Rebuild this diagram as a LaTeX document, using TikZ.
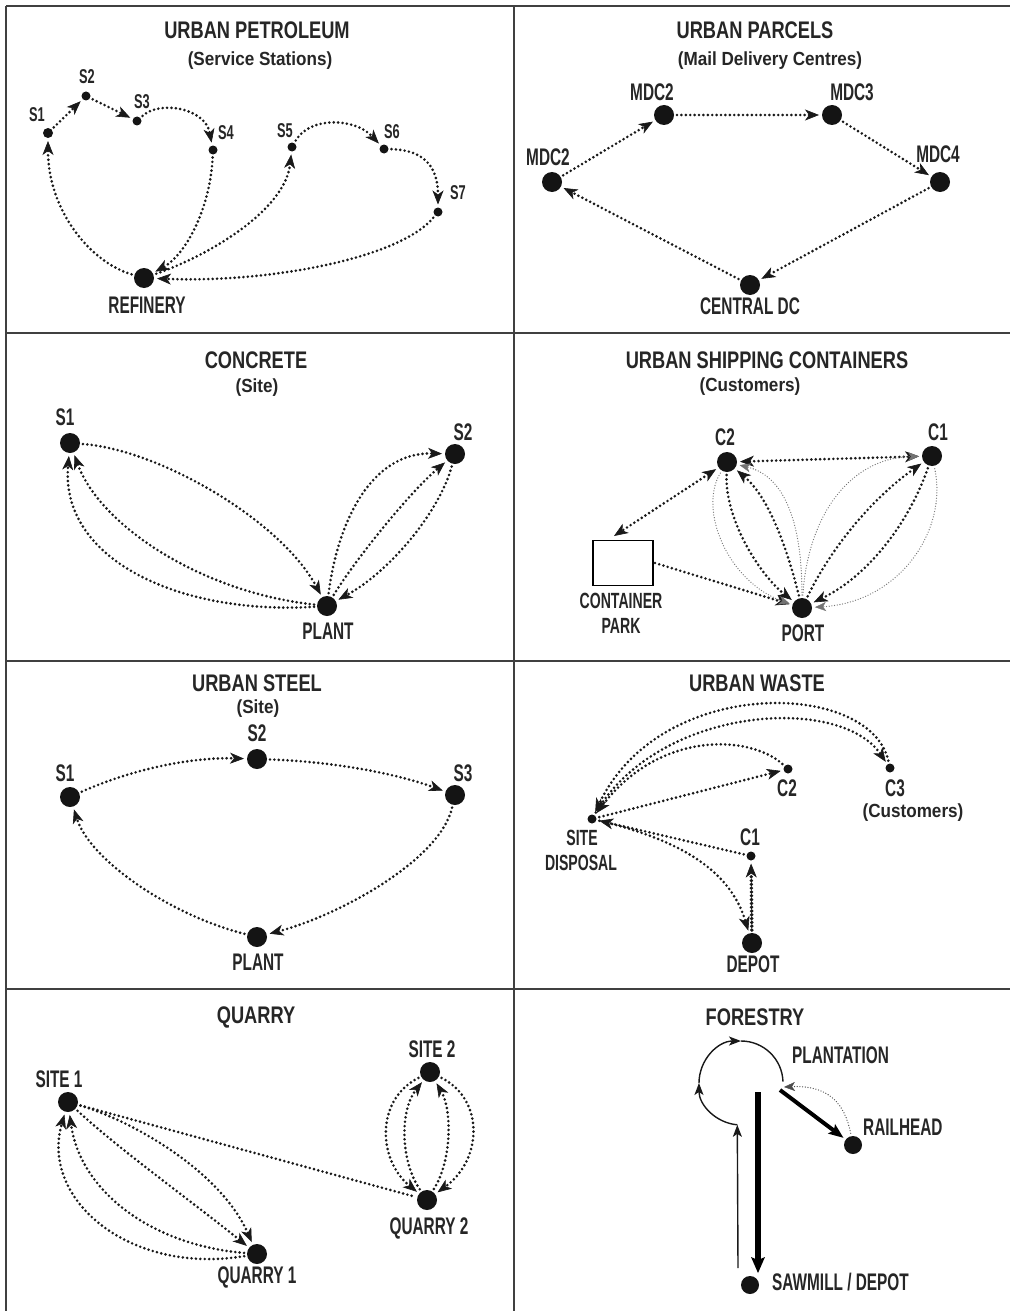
\documentclass[tikz,border=0pt]{standalone}
\usepackage{fontspec}
\newfontfamily\ttlfont{Liberation Sans}[FakeStretch=0.76]
\newfontfamily\labfont{Liberation Sans}[FakeStretch=0.64]
\newfontfamily\subfont{Liberation Sans}[FakeStretch=0.9]
\usetikzlibrary{arrows.meta}
\begin{document}
\begin{tikzpicture}[x=1pt,y=-1pt,
 frame/.style={line width=2.2pt, black!75},
 ttl/.style={font=\ttlfont\bfseries\fontsize{24}{28}\selectfont, text=black!85, inner sep=0pt},
 sub/.style={font=\subfont\bfseries\fontsize{19}{23}\selectfont, text=black!85, inner sep=0pt},
 lab/.style={font=\labfont\bfseries\fontsize{24}{26}\selectfont, text=black!85, inner sep=0pt},
 mlab/.style={font=\labfont\bfseries\fontsize{22}{24}\selectfont, text=black!85, inner sep=0pt},
 slab/.style={font=\labfont\bfseries\fontsize{20}{22}\selectfont, text=black!85, inner sep=0pt},
 bdot/.style={circle, fill=black!92, inner sep=0pt, minimum size=20pt, outer sep=3pt},
 sdot/.style={circle, fill=black!92, inner sep=0pt, minimum size=10pt, outer sep=3pt},
 dl/.style={line width=2.9pt, dash pattern=on 0pt off 4.4pt, line cap=round, black!90},
 tdl/.style={line width=3.8pt, dash pattern=on 0pt off 3.8pt, line cap=round, black!90},
 tl/.style={line width=1.3pt, dash pattern=on 0pt off 2.7pt, line cap=round, black!55},
 hd/.style={-{Stealth[length=14pt,width=11pt,inset=4pt,line width=0.6pt]}},
 hdb/.style={{Stealth[length=14pt,width=11pt,inset=4pt,line width=0.6pt]}-{Stealth[length=14pt,width=11pt,inset=4pt,line width=0.6pt]}},
 thd/.style={-{Stealth[length=11pt,width=9pt,inset=3pt,line width=0.4pt]}},
 solidthin/.style={line width=1.4pt, black!90},
]
\useasboundingbox (0,0) rectangle (1010,1311);
\fill[white] (0,0) rectangle (1010,1311);
% frame
\draw[frame] (6,6) -- (1010,6);
\draw[frame] (6,6) -- (6,1311);
\draw[frame] (514,6) -- (514,1311);
\draw[frame] (6,333) -- (1010,333);
\draw[frame] (6,661) -- (1010,661);
\draw[frame] (6,989) -- (1010,989);

% ===== Panel 1: Urban Petroleum
\node[ttl] (t1) at (257,30) {URBAN PETROLEUM};
\node[sub] (st1) at (260,61) {(Service Stations)};
\node[sdot] (p1) at (48,133) {};
\node[sdot,minimum size=9pt] (p2) at (86,96) {};
\node[sdot,minimum size=9pt] (p3) at (137,121) {};
\node[sdot,minimum size=9pt] (p4) at (213,150) {};
\node[sdot,minimum size=9pt] (p5) at (292,147) {};
\node[sdot,minimum size=9pt] (p6) at (384,149) {};
\node[sdot,minimum size=9pt] (p7) at (438,212) {};
\node[bdot] (pref) at (144,278) {};
\node[slab] (lp1) at (37,115) {S1};
\node[slab] (lp2) at (87,77) {S2};
\node[slab] (lp3) at (142,102) {S3};
\node[slab] (lp4) at (226,133) {S4};
\node[slab] (lp5) at (285,131) {S5};
\node[slab] (lp6) at (392,132) {S6};
\node[slab] (lp7) at (458,193) {S7};
\node[lab] (lpref) at (147,305) {REFINERY};
\draw[dl,hd] (p1) -- (p2);
\draw[dl,hd] (p2) -- (p3);
\draw[dl,hd] (p3) .. controls (160,100) and (205,108) .. (p4);
\draw[dl,hd] (p4) .. controls (210,210) and (185,255) .. (pref);
\draw[dl,hd] (pref) .. controls (90,262) and (48,210) .. (p1);
\draw[dl,hd] (pref) .. controls (210,255) and (285,210) .. (p5);
\draw[dl,hd] (p5) .. controls (310,116) and (355,118) .. (p6);
\draw[dl,hd] (p6) .. controls (425,150) and (438,168) .. (p7);
\draw[dl,hd] (p7) .. controls (400,258) and (270,283) .. (pref);

% ===== Panel 2: Urban Parcels
\node[ttl] (t2) at (755,30) {URBAN PARCELS};
\node[sub] (st2) at (770,61) {(Mail Delivery Centres)};
\node[bdot] (m2a) at (664,115) {};
\node[bdot] (m3) at (832,115) {};
\node[bdot] (m4) at (940,182) {};
\node[bdot] (m2b) at (552,182) {};
\node[bdot] (cdc) at (750,285) {};
\node[lab] (lm2a) at (652,92) {MDC2};
\node[lab] (lm3) at (852,92) {MDC3};
\node[lab] (lm4) at (938,154) {MDC4};
\node[lab] (lm2b) at (548,157) {MDC2};
\node[lab] (lcdc) at (750,306) {CENTRAL DC};
\draw[dl,hd] (m2b) -- (m2a);
\draw[dl,hd] (m2a) -- (m3);
\draw[dl,hd] (m3) -- (m4);
\draw[dl,hd] (m4) -- (cdc);
\draw[dl,hd] (cdc) -- (m2b);

% ===== Panel 3: Concrete
\node[ttl] (t3) at (256,360) {CONCRETE};
\node[sub] (st3) at (257,388) {(Site)};
\node[bdot] (cs1) at (70,443) {};
\node[bdot] (cs2) at (455,454) {};
\node[bdot] (cpl) at (327,606) {};
\node[lab] (lcs1) at (65,417) {S1};
\node[lab] (lcs2) at (463,432) {S2};
\node[lab] (lcpl) at (328,631) {PLANT};
\draw[dl,hd] (cs1) .. controls (160,450) and (280,520) .. (cpl);
\draw[dl,hd] (cpl) .. controls (180,615) and (60,560) .. (cs1);
\draw[dl,hd] (cpl) .. controls (200,592) and (100,525) .. (cs1);
\draw[dl,hd] (cpl) .. controls (338,520) and (372,452) .. (cs2);
\draw[dl,hd] (cpl) .. controls (355,560) and (410,492) .. (cs2);
\draw[dl,hd] (cs2) .. controls (440,510) and (392,570) .. (cpl);

% ===== Panel 4: Urban Shipping Containers
\node[ttl] (t4) at (767,360) {URBAN SHIPPING CONTAINERS};
\node[sub] (st4) at (750,387) {(Customers)};
\node[bdot] (c2) at (727,462) {};
\node[bdot] (c1) at (932,456) {};
\node[bdot] (port) at (802,608) {};
\node[draw, line width=1.6pt, minimum width=60pt, minimum height=45pt, inner sep=0pt, outer sep=2pt] (box) at (623,563) {};
\coordinate (boxtop) at (614,536);
\node[lab] (lc2) at (725,437) {C2};
\node[lab] (lc1) at (938,432) {C1};
\node[lab] (lport) at (803,633) {PORT};
\node[mlab] (lbox1) at (621,601) {CONTAINER};
\node[mlab] (lbox2) at (621,626) {PARK};
\draw[dl,hdb] (c2) -- (c1);
\draw[dl,hdb] (c2) -- (boxtop);
\draw[dl,hd] (box.east) -- (port);
\draw[tl,thd] (c2) .. controls (698,510) and (728,582) .. (port);
\draw[dl,hd] (c2) .. controls (725,520) and (760,575) .. (port);
\draw[dl,hd] (port) .. controls (790,560) and (772,500) .. (c2);
\draw[tl,thd] (port) .. controls (802,540) and (792,478) .. (c2);
\draw[tl,thd] (port) .. controls (808,515) and (850,458) .. (c1);
\draw[dl,hd] (port) .. controls (830,550) and (870,500) .. (c1);
\draw[dl,hd] (c1) .. controls (910,520) and (870,575) .. (port);
\draw[tl,thd] (c1) .. controls (948,530) and (900,602) .. (port);

% ===== Panel 5: Urban Steel
\node[ttl] (t5) at (257,683) {URBAN STEEL};
\node[sub] (st5) at (258,709) {(Site)};
\node[bdot] (us1) at (70,797) {};
\node[bdot] (us2) at (257,759) {};
\node[bdot] (us3) at (455,795) {};
\node[bdot] (upl) at (257,937) {};
\node[lab] (lus1) at (65,773) {S1};
\node[lab] (lus2) at (257,733) {S2};
\node[lab] (lus3) at (463,773) {S3};
\node[lab] (lupl) at (258,962) {PLANT};
\draw[dl,hd] (us1) .. controls (130,770) and (190,757) .. (us2);
\draw[dl,hd] (us2) .. controls (340,762) and (400,775) .. (us3);
\draw[dl,hd] (us3) .. controls (440,860) and (340,915) .. (upl);
\draw[dl,hd] (upl) .. controls (170,915) and (90,860) .. (us1);

% ===== Panel 6: Urban Waste
\node[ttl] (t6) at (757,683) {URBAN WASTE};
\node[sdot,minimum size=9pt] (ws) at (592,819) {};
\node[sdot,minimum size=9pt] (wc2) at (788,769) {};
\node[sdot,minimum size=9pt] (wc3) at (890,768) {};
\node[sdot,minimum size=9pt] (wc1) at (751,856) {};
\node[bdot] (wd) at (752,943) {};
\node[mlab] (lws1) at (582,838) {SITE};
\node[mlab] (lws2) at (581,863) {DISPOSAL};
\node[lab] (lwc2) at (787,788) {C2};
\node[lab] (lwc3) at (895,788) {C3};
\node[sub] (lwcust) at (913,813) {(Customers)};
\node[lab] (lwc1) at (750,837) {C1};
\node[lab] (lwd) at (753,964) {DEPOT};
\draw[dl,hd] (wc3) .. controls (870,680) and (660,675) .. (ws);
\draw[dl,hd] (ws) .. controls (660,705) and (840,695) .. (wc3);
\draw[dl,hd] (wc2) .. controls (750,735) and (660,730) .. (ws);
\draw[dl,hd] (ws) -- (wc2);
\draw[dl,hd] (wc1) -- (ws);
\draw[dl,hd] (ws) .. controls (680,840) and (730,870) .. (wd);
\draw[tdl,hd] (wd) -- (wc1);

% ===== Panel 7: Quarry
\node[ttl] (t7) at (256,1017) {QUARRY};
\node[bdot] (qs1) at (68,1102) {};
\node[bdot] (qs2) at (430,1072) {};
\node[bdot] (qq2) at (427,1200) {};
\node[bdot] (qq1) at (257,1254) {};
\node[lab] (lqs1) at (59,1079) {SITE 1};
\node[lab] (lqs2) at (432,1049) {SITE 2};
\node[lab] (lqq2) at (429,1228) {QUARRY 2};
\node[lab] (lqq1) at (257,1277) {QUARRY 1};
\draw[dl] (qs1) -- (qq2);
\draw[dl,hd] (qs1) .. controls (120,1150) and (190,1200) .. (qq1);
\draw[dl,hd] (qs1) .. controls (130,1120) and (220,1170) .. (qq1);
\draw[dl,hd] (qq1) .. controls (130,1275) and (40,1200) .. (qs1);
\draw[dl,hd] (qq1) .. controls (150,1245) and (80,1190) .. (qs1);
\draw[dl,hd] (qs2) .. controls (375,1100) and (378,1160) .. (qq2);
\draw[dl,hd] (qq2) .. controls (400,1160) and (400,1110) .. (qs2);
\draw[dl,hd] (qq2) .. controls (452,1160) and (452,1110) .. (qs2);
\draw[dl,hd] (qs2) .. controls (485,1100) and (482,1160) .. (qq2);

% ===== Panel 8: Forestry
\node[ttl] (t8) at (755,1017) {FORESTRY};
\node[bdot,minimum size=18pt] (saw) at (750,1285) {};
\node[bdot,minimum size=18pt] (rail) at (853,1145) {};
\node[lab,anchor=west] (lsaw) at (772,1282) {SAWMILL / DEPOT};
\node[lab,anchor=west] (lrail) at (863,1127) {RAILHEAD};
\node[lab,anchor=west] (lplant) at (792,1055) {PLANTATION};
\coordinate (sawtop) at (738,1268);
\coordinate (loopb) at (737.3,1124.8);
\coordinate (thkA) at (758,1092);
\coordinate (thkB) at (758,1273);
\coordinate (plt) at (780,1090);
\coordinate (plt2) at (784,1087);
\draw[solidthin,-{Stealth[length=12pt,width=9pt,inset=3pt]}] (sawtop) -- (loopb);
\draw[solidthin,-{Stealth[length=12pt,width=9pt,inset=3pt]}] (loopb) arc[start angle=95, end angle=180, radius=42];
\draw[solidthin,-{Stealth[length=12pt,width=9pt,inset=3pt]}] (699,1083) arc[start angle=180, end angle=270, radius=42];
\draw[solidthin] (741,1041) arc[start angle=270, end angle=358, radius=42];
\draw[line width=6pt,-{Stealth[length=16pt,width=14pt,inset=3pt,line width=0pt]}] (thkA) -- (thkB);
\draw[line width=4pt,-{Stealth[length=15pt,width=12pt,inset=3pt,line width=0pt]}] (plt) -- (rail);
\draw[tl,black!70,thd] (rail) .. controls (845,1105) and (830,1085) .. (plt2);
\end{tikzpicture}
\end{document}
